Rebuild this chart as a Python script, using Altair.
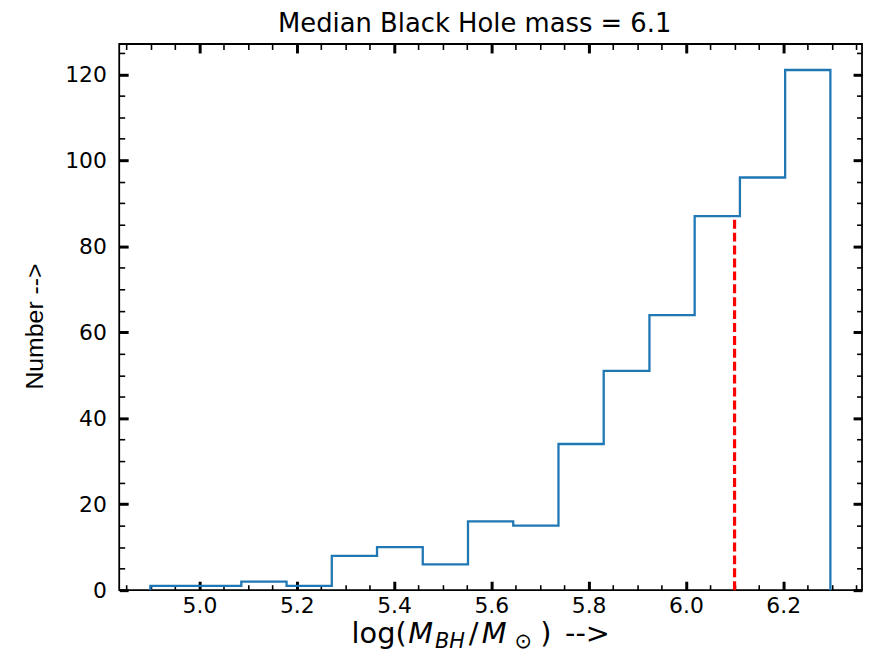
import altair as alt
import pandas as pd

# ---- data ----
edges = [4.899, 4.992, 5.086, 5.179, 5.272, 5.365, 5.459, 5.552, 5.645,
         5.738, 5.831, 5.925, 6.018, 6.111, 6.204, 6.297]
counts = [1, 1, 2, 1, 8, 10, 6, 16, 15, 34, 51, 64, 87, 96, 121]
median_value = 6.1
median_height = 87

x_major = [5.0, 5.2, 5.4, 5.6, 5.8, 6.0, 6.2]
x_minor = [4.85, 4.9, 4.95, 5.05, 5.1, 5.15, 5.25, 5.3, 5.35, 5.45, 5.5, 5.55,
           5.65, 5.7, 5.75, 5.85, 5.9, 5.95, 6.05, 6.1, 6.15, 6.25, 6.3, 6.35]
y_major = [0, 20, 40, 60, 80, 100, 120]
y_minor = [5, 10, 15, 25, 30, 35, 45, 50, 55, 65, 70, 75, 85, 90, 95,
           105, 110, 115, 125]
x_domain = [4.835, 6.362]
y_domain = [0, 127.05]

title_text = "Median Black Hole mass = 6.1"
y_title = "Number -->"

# step outline vertices (matplotlib histtype='step')
xs = [edges[0]] + edges[:-1] + [edges[-1], edges[-1]]
ys = [0] + counts + [counts[-1], 0]
hist_df = pd.DataFrame({"x": xs, "y": ys, "i": list(range(len(xs)))})
med_df = pd.DataFrame({"x": [median_value], "y0": [0], "y1": [median_height]})

W, H = 748, 550
MAJ, MIN = 9, 5.5

xscale = alt.Scale(domain=x_domain, nice=False, zero=False)
yscale = alt.Scale(domain=y_domain, nice=False, zero=False)


def ax(orient, values, size, width, **kw):
    base = dict(orient=orient, values=values, tickSize=size, tickWidth=width,
                offset=-size, labels=False, domain=False, grid=False,
                tickColor="black", title=None)
    base.update(kw)
    return alt.Axis(**base)


label_style = dict(labels=True, labelFont="DejaVu Sans", labelFontSize=22,
                   labelColor="black", labelFlush=False, labelOverlap=False)

x_main = ax("bottom", x_major, MAJ, 3, format=".1f", labelPadding=5, **label_style)
y_main = ax("left", y_major, MAJ, 3, format="d", labelPadding=13,
            title=y_title, titleFont="Liberation Sans", titleFontSize=25,
            titleFontWeight="normal", titleColor="black", titleAngle=270,
            titleX=-86, titleY=284, titleBaseline="alphabetic",
            titleAlign="center", **label_style)

hist = alt.Chart(hist_df).mark_line(
    interpolate="step-after", color="#1f77b4", strokeWidth=2.3
).encode(
    x=alt.X("x:Q", scale=xscale, axis=x_main),
    y=alt.Y("y:Q", scale=yscale, axis=y_main),
    order="i:Q",
)

median = alt.Chart(med_df).mark_rule(
    color="#ff0000", strokeWidth=3.2, strokeDash=[9, 4]
).encode(
    x=alt.X("x:Q", scale=xscale, axis=ax("bottom", x_minor, MIN, 1.6)),
    y=alt.Y("y0:Q", scale=yscale, axis=ax("left", y_minor, MIN, 1.6)),
    y2="y1:Q",
)

top_right_major = alt.Chart(hist_df).mark_line(opacity=0).encode(
    x=alt.X("x:Q", scale=xscale, axis=ax("top", x_major, MAJ, 3)),
    y=alt.Y("y:Q", scale=yscale, axis=ax("right", y_major, MAJ, 3)),
    order="i:Q",
)

top_right_minor = alt.Chart(hist_df).mark_line(opacity=0).encode(
    x=alt.X("x:Q", scale=xscale, axis=ax("top", x_minor, MIN, 1.6)),
    y=alt.Y("y:Q", scale=yscale, axis=ax("right", y_minor, MIN, 1.6)),
    order="i:Q",
)

dummy = pd.DataFrame({"d": [0]})

# chart title as text (centred over the axes like the reference)
title_layer = alt.Chart(dummy).mark_text(
    text=title_text, align="center", baseline="alphabetic",
    font="DejaVu Sans", fontSize=26, color="black"
).encode(x=alt.value(358), y=alt.value(-12))

# x-axis label built from pieces (mathtext-like)
pieces = [
    ("log(", 234, "normal", 29, 603),
    ("M", 291, "italic", 29, 603),
    ("BH", 318, "italic", 21, 608),
    ("/", 352, "normal", 29, 603),
    ("M", 365, "italic", 29, 603),
    ("\u2299", 398, "normal", 21, 608),
    (")", 424, "normal", 29, 603),
    ("-->", 449, "normal", 29, 603),
]
label_layers = [
    alt.Chart(dummy).mark_text(
        text=t, align="left", baseline="alphabetic", font="DejaVu Sans",
        fontSize=fs, fontStyle=st, color="black"
    ).encode(x=alt.value(px), y=alt.value(py))
    for (t, px, st, fs, py) in pieces
]

chart = alt.layer(
    hist, median, top_right_major, top_right_minor, title_layer, *label_layers
).resolve_axis(
    x="independent", y="independent"
).properties(
    width=W, height=H,
    autosize=alt.AutoSizeParams(type="none"),
    padding={"left": 112, "top": 34, "right": 1, "bottom": 60},
).configure_view(
    stroke="black", strokeWidth=1.8
).configure_axis(
    grid=False
)

chart.save("out.html", embed_options={"renderer": "svg", "actions": False})
